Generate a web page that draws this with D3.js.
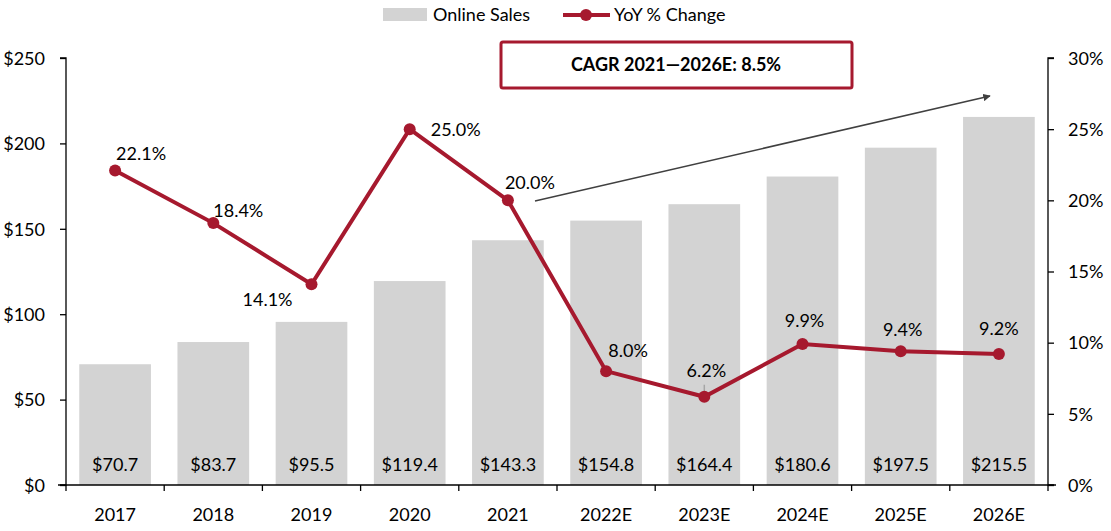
<!DOCTYPE html>
<html><head><meta charset="utf-8">
<script src="https://cdn.jsdelivr.net/npm/d3@7"></script>
<style>body{margin:0;background:#fff;}svg{display:block;font-family:Lato,"Open Sans",sans-serif;}</style>
</head><body><svg id="c" width="1111" height="531"></svg>
<script>
const categories = ["2017","2018","2019","2020","2021","2022E","2023E","2024E","2025E","2026E"];
const onlineSales = [70.7,83.7,95.5,119.4,143.3,154.8,164.4,180.6,197.5,215.5];
const yoyChange = [22.1,18.4,14.1,25.0,20.0,8.0,6.2,9.9,9.4,9.2];
const leftTicks = [0,50,100,150,200,250];
const rightTicks = [0,5,10,15,20,25,30];
const cagrText = "CAGR 2021\u20142026E: 8.5%";

// label placement offsets (layout)
const pctOffsets = [[26,-17],[25,-12],[-44,15],[46,1],[22,-18],[22,-20],[2,-26],[2,-23],[2,-22],[0,-25]];

const svg = d3.select("#c");
const L = 66, R = 1048, T = 58, B = 485;
const red = "#A6192E", gray = "#D3D3D3";

const x = d3.scaleBand().domain(categories).range([L,R]).paddingInner(0.27).paddingOuter(0.135);
const xb = d3.scaleBand().domain(categories).range([L,R]);
const yL = d3.scaleLinear().domain([0,250]).range([B,T]);
const yR = d3.scaleLinear().domain([0,30]).range([B,T]);

// bars
svg.selectAll("rect.bar").data(onlineSales).join("rect")
  .attr("x",(d,i)=>x(categories[i])).attr("width",x.bandwidth())
  .attr("y",d=>yL(d)).attr("height",d=>B-yL(d)).attr("fill",gray);

svg.selectAll("text.bv").data(onlineSales).join("text")
  .attr("x",(d,i)=>xb(categories[i])+xb.bandwidth()/2).attr("y",471)
  .attr("text-anchor","middle").attr("font-size",18).attr("fill","#000")
  .text(d=>"$"+d.toFixed(1));

// axes
const axL = d3.axisLeft(yL).tickValues(leftTicks).tickSize(6).tickFormat(d=>"$"+d);
const gL = svg.append("g").attr("transform",`translate(${L},0)`).call(axL);
const axR = d3.axisRight(yR).tickValues(rightTicks).tickSize(6).tickFormat(d=>d+"%");
const gR = svg.append("g").attr("transform",`translate(${R},0)`).call(axR);
[gL,gR].forEach(g=>{
  g.select(".domain").attr("stroke","#000").attr("stroke-width",1.3);
  g.selectAll(".tick line").attr("stroke","#000").attr("stroke-width",1.3);
  g.selectAll(".tick text").attr("font-size",18).attr("fill","#000").attr("font-family","Lato,'Open Sans',sans-serif");
});
gL.select(".domain").attr("d",`M-6,${T}H0V${B}H-6`);
gR.select(".domain").attr("d",`M6,${T}H0V${B}H6`);
gL.selectAll(".tick text").attr("x",-21).attr("dy","0.35em");
gR.selectAll(".tick text").attr("x",20).attr("dy","0.35em");

// x axis
const gX = svg.append("g").attr("transform",`translate(0,${B})`);
gX.append("line").attr("x1",L-8).attr("x2",R+8).attr("stroke","#000").attr("stroke-width",1.3);
const bounds = categories.map(c=>xb(c)).concat([R]);
gX.selectAll("line.tk").data(bounds).join("line")
  .attr("x1",d=>d).attr("x2",d=>d).attr("y1",0).attr("y2",6).attr("stroke","#000").attr("stroke-width",1.3);
gX.selectAll("text").data(categories).join("text")
  .attr("x",d=>xb(d)+xb.bandwidth()/2).attr("y",36).attr("text-anchor","middle")
  .attr("font-size",18).attr("fill","#000").text(d=>d);

// line
const cx = (i)=>xb(categories[i])+xb.bandwidth()/2;
svg.append("path").datum(yoyChange)
  .attr("d",d3.line().x((d,i)=>cx(i)).y(d=>yR(d)))
  .attr("fill","none").attr("stroke",red).attr("stroke-width",4);
// leader for 6.2%
svg.append("line").attr("x1",cx(6)).attr("x2",cx(6)).attr("y1",yR(yoyChange[6])).attr("y2",yR(yoyChange[6])-12)
  .attr("stroke","#A6A6A6").attr("stroke-width",1.5);
svg.selectAll("circle.pt").data(yoyChange).join("circle")
  .attr("cx",(d,i)=>cx(i)).attr("cy",d=>yR(d)).attr("r",6).attr("fill",red);
svg.selectAll("text.pl").data(yoyChange).join("text")
  .attr("x",(d,i)=>cx(i)+pctOffsets[i][0]).attr("y",(d,i)=>yR(d)+pctOffsets[i][1])
  .attr("text-anchor","middle").attr("dy","0.35em").attr("font-size",18).attr("fill","#000")
  .text(d=>d.toFixed(1)+"%");

// arrow
svg.append("defs").append("marker").attr("id","ah").attr("viewBox","0 0 10 10")
  .attr("refX",9).attr("refY",5).attr("markerWidth",5).attr("markerHeight",5).attr("orient","auto")
  .append("path").attr("d","M0,0L10,5L0,10z").attr("fill","#404040");
svg.append("line").attr("x1",535).attr("y1",201).attr("x2",990).attr("y2",96)
  .attr("stroke","#404040").attr("stroke-width",1.5).attr("marker-end","url(#ah)");

// CAGR box
svg.append("rect").attr("x",501).attr("y",42).attr("width",351).attr("height",46)
  .attr("fill","#fff").attr("stroke",red).attr("stroke-width",3).attr("rx",2);
svg.append("text").attr("x",676).attr("y",65).attr("dy","0.35em").attr("text-anchor","middle")
  .attr("font-size",18).attr("font-weight","bold").attr("fill","#000").text(cagrText);

// legend
svg.append("rect").attr("x",383).attr("y",8).attr("width",44).attr("height",13).attr("fill",gray);
svg.append("text").attr("x",433).attr("y",15).attr("dy","0.35em").attr("font-size",18).attr("fill","#000").text("Online Sales");
svg.append("line").attr("x1",563).attr("x2",610).attr("y1",15).attr("y2",15).attr("stroke",red).attr("stroke-width",4);
svg.append("circle").attr("cx",586).attr("cy",15).attr("r",6).attr("fill",red);
svg.append("text").attr("x",614).attr("y",15).attr("dy","0.35em").attr("font-size",18).attr("fill","#000").text("YoY % Change");
</script></body></html>
